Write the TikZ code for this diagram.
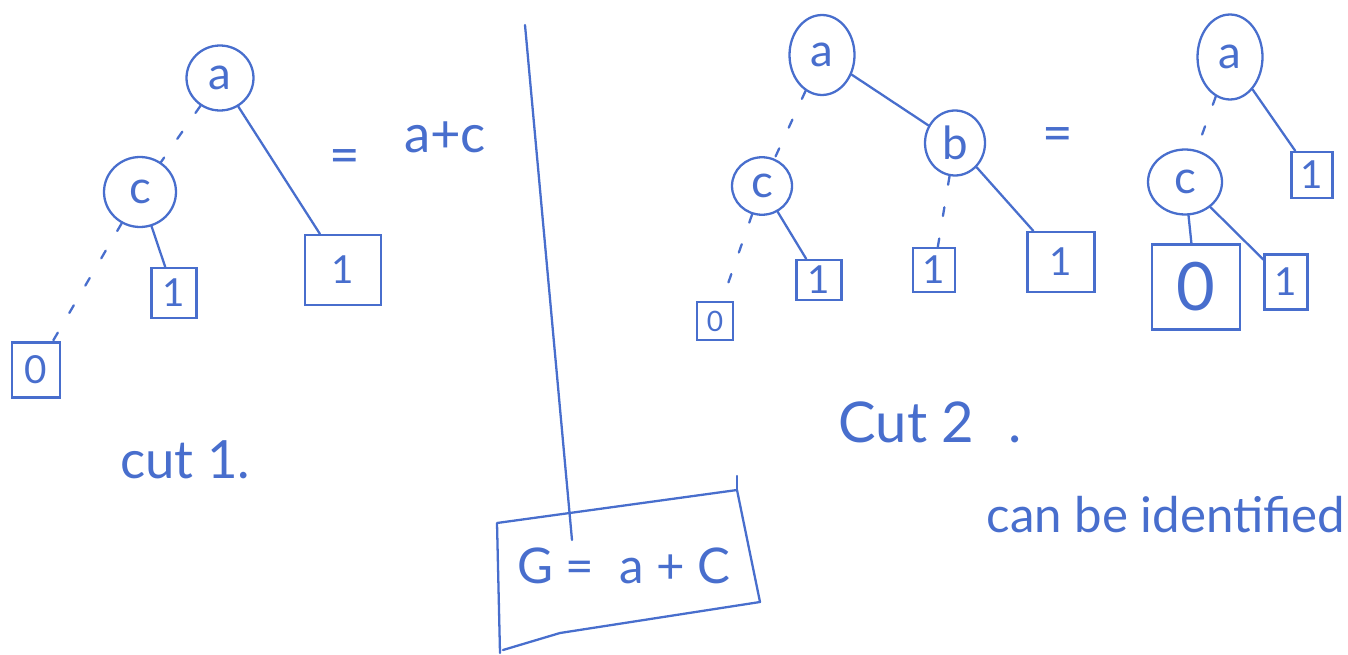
\documentclass[tikz,border=0pt]{standalone}
\usepackage{fontspec}
\setmainfont{Lato}
\usetikzlibrary{shapes.geometric}
\definecolor{ink}{RGB}{72,110,205}
\begin{document}
\begin{tikzpicture}[x=0.02cm,y=-0.02cm,
  inkline/.style={draw=ink,line width=1.3pt,line cap=round,line join=round},
  vnode/.style={ellipse,draw=ink,line width=1.3pt,text=ink,inner sep=0pt,font=\fontsize{26}{26}\selectfont},
  leaf/.style={rectangle,draw=ink,line width=1.3pt,text=ink,inner sep=0pt,font=\fontsize{22}{22}\selectfont},
  solidedge/.style={draw=ink,line width=1.3pt,line cap=round},
  dashedge/.style={draw=ink,line width=1.3pt,line cap=round,dash pattern=on 5pt off 13pt},
  txt/.style={text=ink,inner sep=0pt}
]
\useasboundingbox (0,0) rectangle (1348,655);

% ---- cut 1 tree ----
\node[vnode,minimum width=1.34cm,minimum height=1.3cm] (La) at (220,78) {a};
\node[vnode,minimum width=1.44cm,minimum height=1.4cm] (Lc) at (140,192) {c};
\node[leaf,minimum width=0.96cm,minimum height=1.1cm] (L0) at (36,370) {0};
\node[leaf,minimum width=0.9cm,minimum height=1cm] (L1) at (174,293) {1};
\node[leaf,minimum width=1.52cm,minimum height=1.4cm] (L1b) at (343,270) {1};
\draw[dashedge] (La) -- (Lc);
\draw[solidedge] (La) -- (L1b);
\draw[solidedge] (Lc) -- (L1);
\draw[dashedge] (Lc) -- (L0);
\node[txt,font=\fontsize{30}{30}\selectfont] (Leq) at (345,162) {=};
\node[txt,font=\fontsize{30}{30}\selectfont] (Lsum) at (445,137) {a+c};
\node[txt,font=\fontsize{30}{30}\selectfont] (cut1) at (185,460) {cut 1.};

% ---- divider ----
\coordinate (vtop) at (525,25);
\coordinate (vbot) at (572,540);
\draw[solidedge] (vtop) -- (vbot);

% ---- result box ----
\draw[inkline] (500,653) -- (497,523) -- (737,490) -- (760,602) -- (560,633) -- (503,650);
\draw[inkline] (737,490) -- (737,476);
\node[txt,font=\fontsize{28}{28}\selectfont] (G) at (624,566) {G =\ \ a + C};

% ---- cut 2 tree ----
\node[vnode,minimum width=1.3cm,minimum height=1.6cm] (Ra) at (822,55) {a};
\node[vnode,minimum width=1.2cm,minimum height=1.3cm] (Rb) at (955,143) {b};
\node[vnode,minimum width=1.2cm,minimum height=1.15cm] (Rc) at (762,186) {c};
\node[leaf,minimum width=0.72cm,minimum height=0.76cm,font=\fontsize{16}{16}\selectfont] (R0) at (715,321) {0};
\node[leaf,minimum width=0.9cm,minimum height=0.8cm] (R1a) at (819,280) {1};
\node[leaf,minimum width=0.84cm,minimum height=0.88cm] (R1b) at (934,270) {1};
\node[leaf,minimum width=1.34cm,minimum height=1.2cm] (R1c) at (1061,262) {1};
\draw[dashedge] (Ra) -- (Rc);
\draw[solidedge] (Ra) -- (Rb);
\draw[dashedge] (Rc) -- (R0);
\draw[solidedge] (Rc) -- (R1a);
\draw[dashedge] (Rb) -- (R1b);
\draw[solidedge] (Rb) -- (R1c);
\node[txt,font=\fontsize{30}{30}\selectfont] (Req) at (1058,140) {=};

% ---- equivalent tree ----
\node[vnode,minimum width=1.3cm,minimum height=1.7cm] (Sa) at (1230,57) {a};
\node[vnode,minimum width=1.48cm,minimum height=1.3cm] (Sc) at (1185,182) {c};
\node[leaf,minimum width=0.82cm,minimum height=0.92cm] (S1a) at (1312,175) {1};
\node[leaf,minimum width=1.76cm,minimum height=1.7cm,font=\fontsize{38}{38}\selectfont] (S0) at (1196,287) {0};
\node[leaf,minimum width=0.86cm,minimum height=1.1cm] (S1b) at (1286,282) {1};
\draw[dashedge] (Sa) -- (Sc);
\draw[solidedge] (Sa) -- (S1a);
\draw[solidedge] (Sc) -- (S0);
\draw[solidedge] (Sc) -- (S1b);

\node[txt,font=\fontsize{32}{32}\selectfont] (cut2) at (930,422) {Cut 2\hspace{0.6em}.};
\node[txt,font=\fontsize{28}{28}\selectfont] (ident) at (1166,515) {can be identified};
\end{tikzpicture}
\end{document}
